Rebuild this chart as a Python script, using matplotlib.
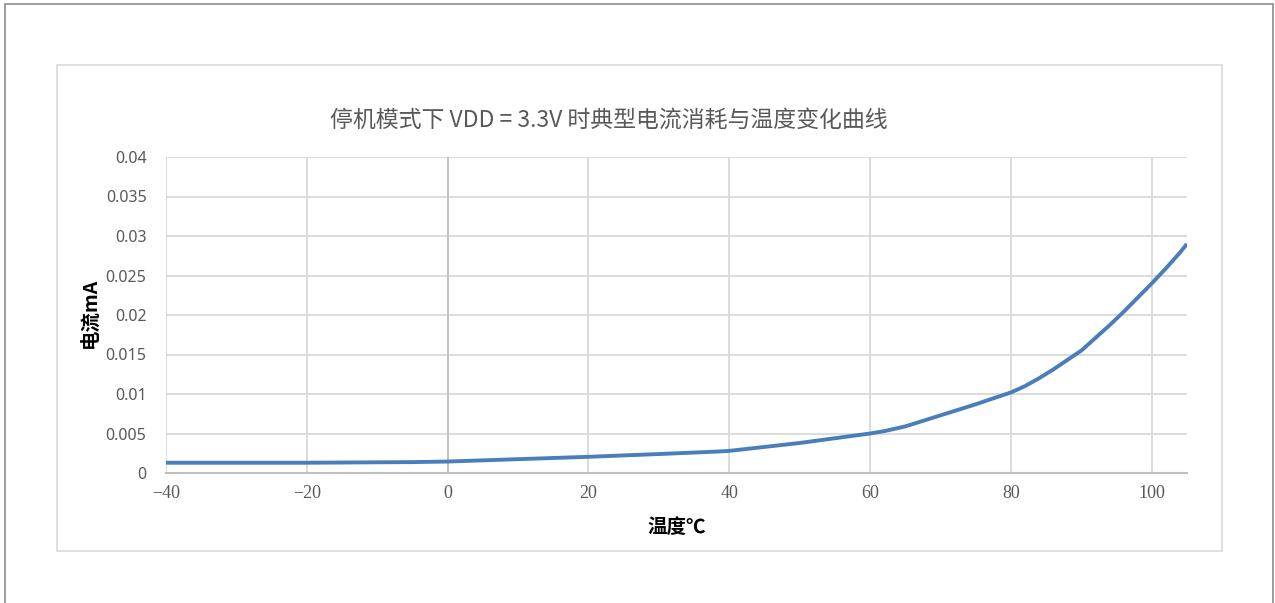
import matplotlib
matplotlib.use("Agg")
import matplotlib.pyplot as plt
from matplotlib.patches import Rectangle

# values
temps = [-40, -20, -5, 0, 10, 20, 30, 38, 40, 50, 60, 62, 65, 70, 75, 80, 82, 84, 86, 88,
         90, 92, 94, 96, 98, 100, 102, 104, 105]
current = [0.0013, 0.0013, 0.00138, 0.00145, 0.00175, 0.00205, 0.0024, 0.0027, 0.0028,
           0.0038, 0.0050, 0.0053, 0.0059, 0.0073, 0.0087, 0.0102, 0.0110, 0.0120, 0.0131,
           0.0143, 0.0155, 0.0171, 0.0187, 0.0204, 0.0222, 0.0240, 0.0259, 0.0279, 0.0290]
xticks = [-40, -20, 0, 20, 40, 60, 80, 100]
yticks = [0, 0.005, 0.01, 0.015, 0.02, 0.025, 0.03, 0.035, 0.04]
ylabels = ["0", "0.005", "0.01", "0.015", "0.02", "0.025", "0.03", "0.035", "0.04"]

title = "停机模式下 VDD = 3.3V 时典型电流消耗与温度变化曲线"
cjk = ["Noto Sans CJK SC", "DejaVu Sans"]
W, H = 1275, 603

fig = plt.figure(figsize=(W / 100, H / 100), dpi=100)
ax = fig.add_axes([166 / W, 1 - 473 / H, (1187 - 166) / W, (473 - 157) / H])

# outer frame and chart area box
fig.add_artist(Rectangle((5 / W, -0.1), (1273 - 5) / W, 1.1 - 4 / H, transform=fig.transFigure,
                         fill=False, ec="#8c8c8c", lw=1.2))
fig.add_artist(Rectangle((57 / W, 1 - 551 / H), (1222 - 57) / W, (551 - 65) / H,
                         transform=fig.transFigure, fill=False, ec="#d9d9d9", lw=1.2))

ax.plot(temps, current, color="#4a7ebb", lw=2.8, solid_capstyle="butt",
        solid_joinstyle="round", zorder=3)
ax.axvline(0, color="#bfbfbf", lw=1.3, zorder=2)

ax.set_xlim(-40, 105)
ax.set_ylim(0, 0.04)
ax.set_xticks(xticks)
ax.set_xticklabels([str(t).replace("-", "\u2212") for t in xticks],
                   family="Liberation Serif", fontsize=13, color="#595959")
ax.set_yticks(yticks)
ax.set_yticklabels(ylabels, family="Noto Sans", fontsize=11.5, color="#595959")
ax.tick_params(length=0, pad=9)
ax.tick_params(axis="y", pad=14)
ax.grid(True, color="#d9d9d9", lw=1.3)
ax.set_axisbelow(True)
for s in ["top", "right", "left"]:
    ax.spines[s].set_visible(False)
ax.spines["bottom"].set_color("#bfbfbf")
ax.spines["bottom"].set_linewidth(1.5)

fig.text(609 / W, 1 - 120 / H, title, family=cjk, fontsize=16.5, color="#595959",
         ha="center", va="center")
fig.text(90 / W, 1 - 313 / H, "电流mA", family=cjk, fontsize=14, fontweight="bold",
         rotation=90, ha="center", va="center")
fig.text(677 / W, 1 - 527 / H, "温度℃", family=cjk, fontsize=14, fontweight="bold",
         ha="center", va="center")

fig.savefig("out.png", dpi=100, facecolor="white")
